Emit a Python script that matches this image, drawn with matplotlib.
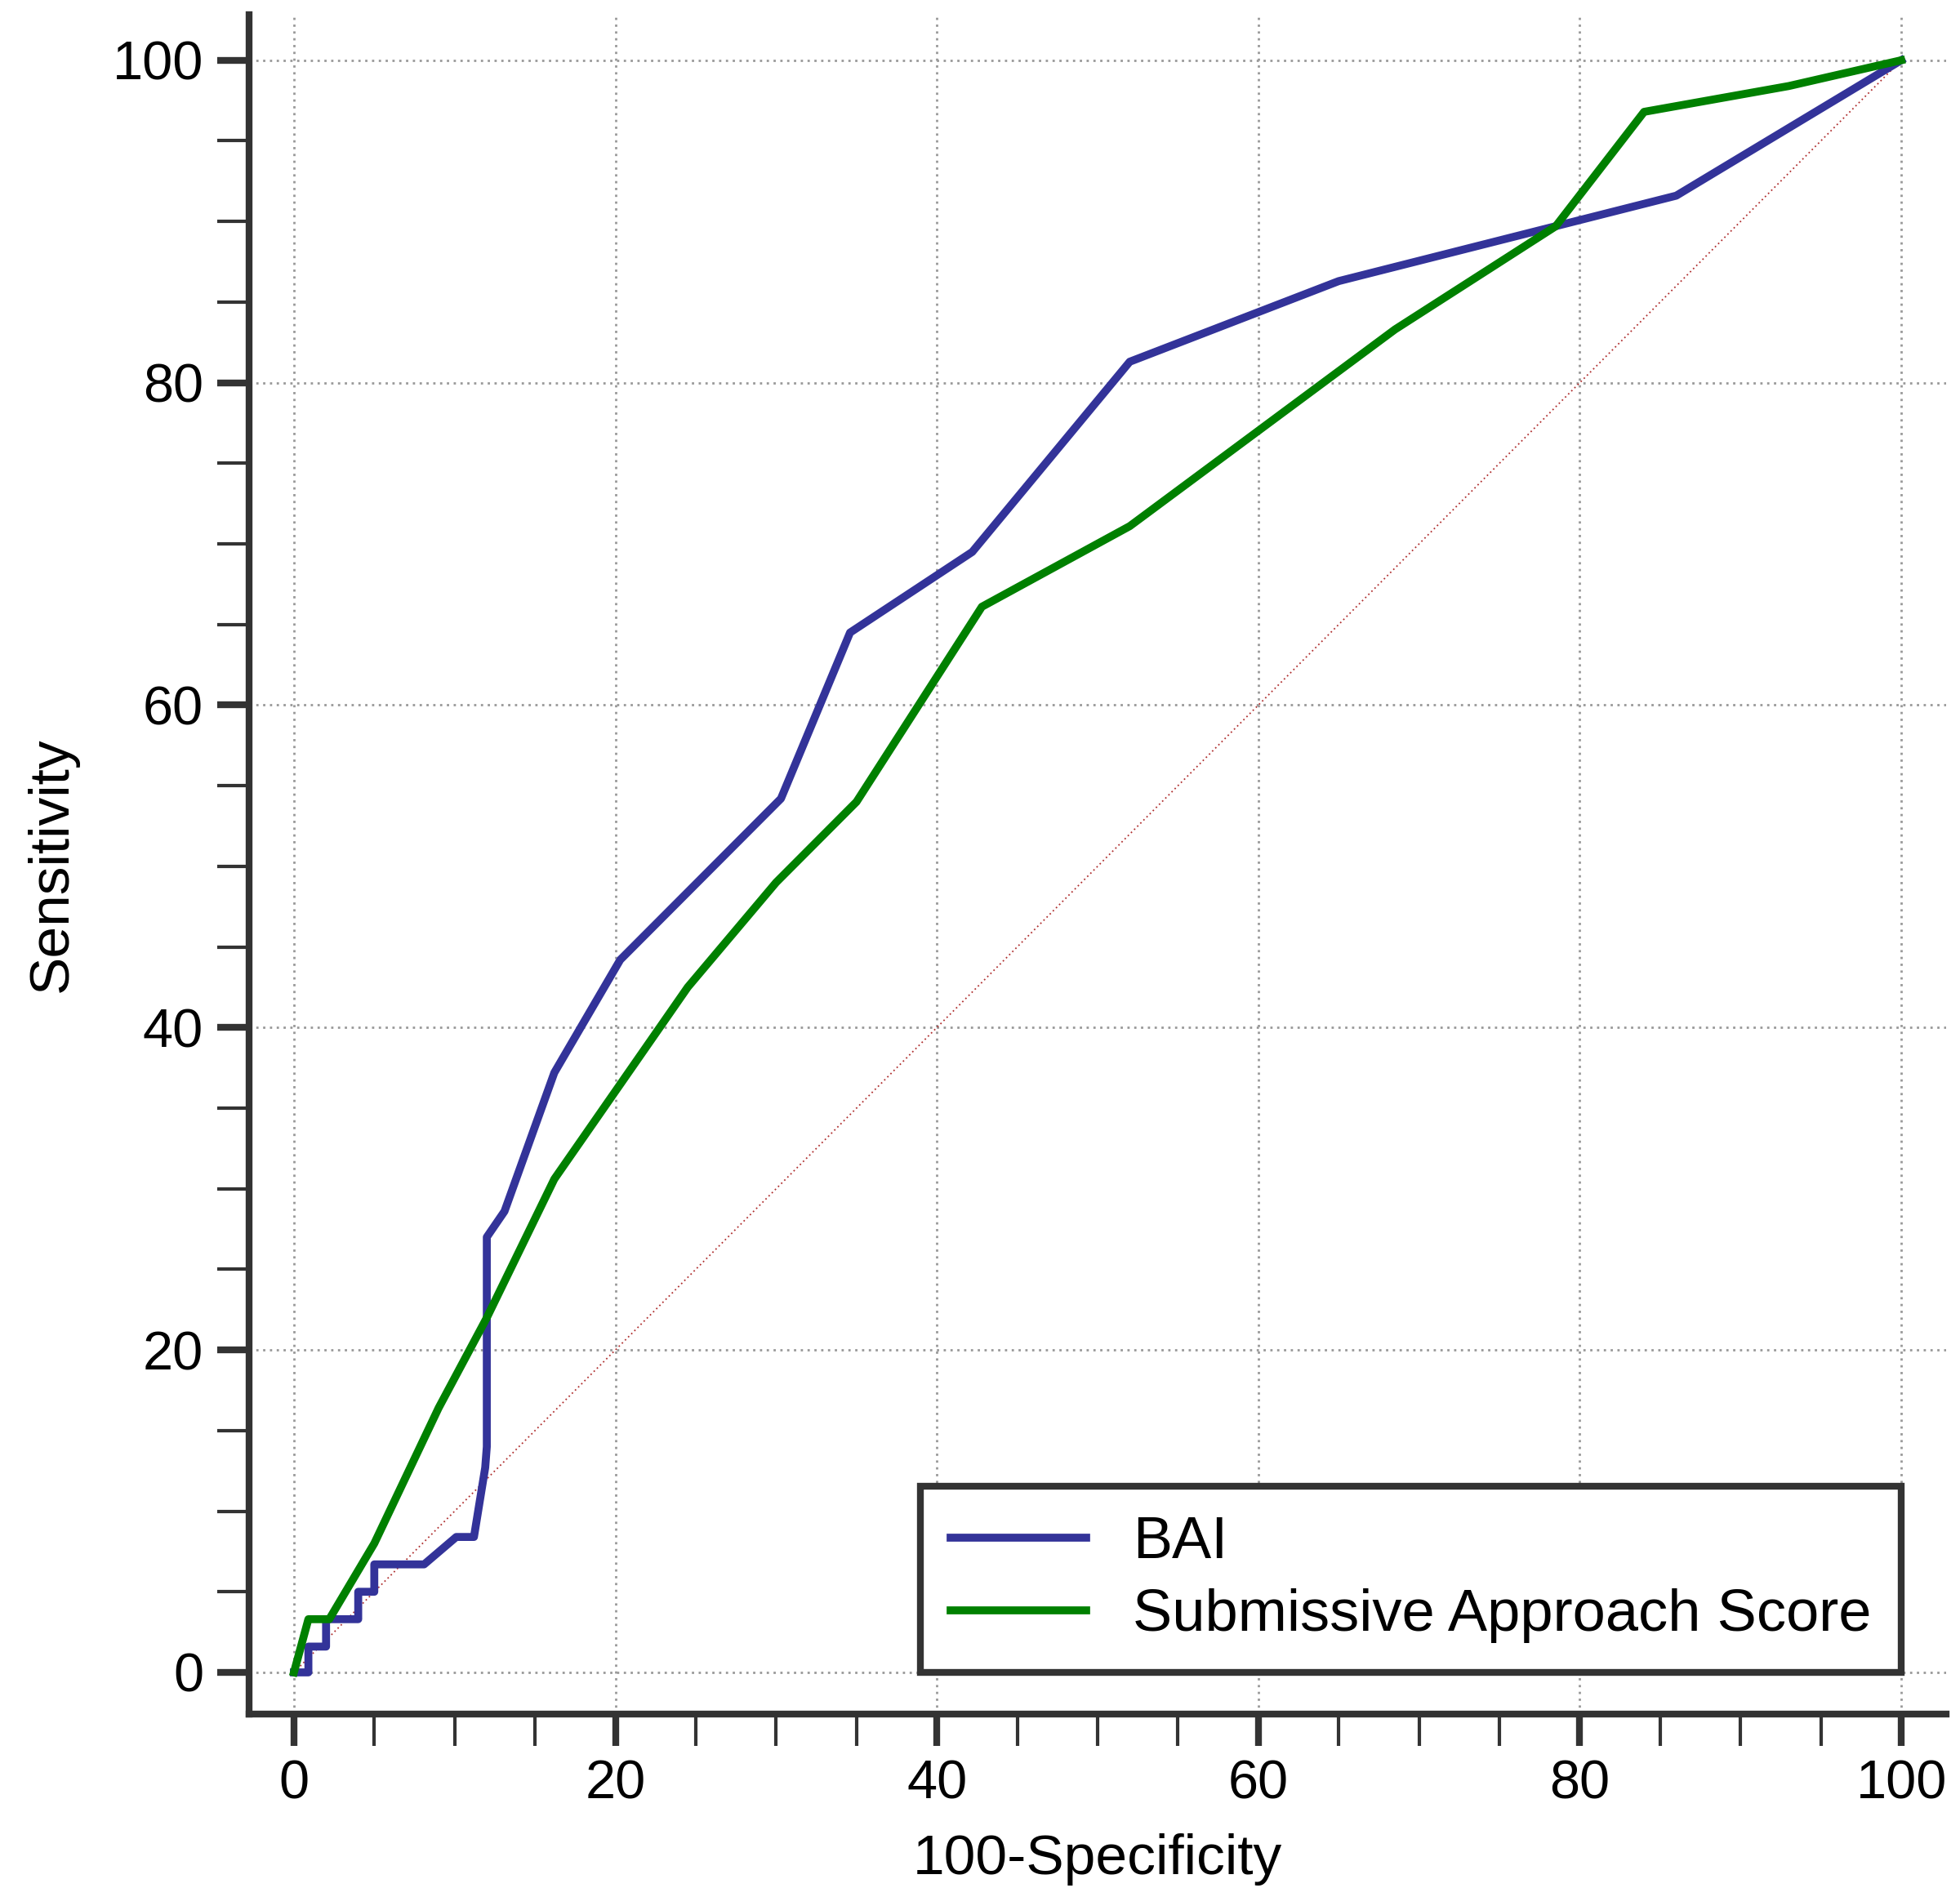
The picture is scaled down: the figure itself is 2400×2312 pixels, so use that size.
import matplotlib
matplotlib.use("Agg")
import matplotlib.pyplot as plt
from matplotlib.ticker import MultipleLocator

plt.rcParams["font.family"] = "Liberation Sans"

# ROC curves
bai_x = [0, 0.9, 0.9, 2.0, 2.0, 4.0, 4.0, 5.0, 5.0, 8.1, 10.1, 11.2, 11.9, 12.0, 12.0, 13.1,
         16.2, 20.3, 30.3, 34.6, 42.2, 52.0, 65.0, 86.0, 100]
bai_y = [0, 0, 1.6, 1.6, 3.3, 3.3, 5.0, 5.0, 6.7, 6.7, 8.4, 8.4, 12.7, 14.0, 27.0, 28.6,
         37.2, 44.2, 54.2, 64.5, 69.5, 81.3, 86.3, 91.6, 100]
sas_x = [0, 0.9, 2.2, 5.0, 9.0, 12.0, 16.2, 24.5, 30.0, 35.0, 42.8, 52.0, 68.5, 78.5, 84.0, 93.0, 100]
sas_y = [0, 3.3, 3.3, 8.0, 16.4, 22.0, 30.6, 42.5, 49.0, 54.0, 66.1, 71.1, 83.3, 89.7, 96.8, 98.4, 100]
ticks = [0, 20, 40, 60, 80, 100]

fig = plt.figure(figsize=(24, 23.12), dpi=100)
ax = fig.add_axes([0.127, 0.092, 0.866, 0.9])

ax.plot([0, 100], [0, 100], color="#b03030", lw=1.3, ls=(0, (1, 2)))
ax.plot(bai_x, bai_y, color="#333399", lw=7, label="BAI")
ax.plot(sas_x, sas_y, color="#008000", lw=7, label="Submissive Approach Score")

ax.set_xlim(-2.8, 102.8)
ax.set_ylim(-2.6, 102.8)
ax.set_xticks(ticks)
ax.set_yticks(ticks)
ax.xaxis.set_minor_locator(MultipleLocator(5))
ax.yaxis.set_minor_locator(MultipleLocator(5))
ax.grid(True, which="major", color="#999999", ls=(0, (1, 2)), lw=2)
for s in ["top", "right"]:
    ax.spines[s].set_visible(False)
for s in ["left", "bottom"]:
    ax.spines[s].set_linewidth(6)
    ax.spines[s].set_color("#333333")
ax.tick_params(which="major", length=28, width=6, color="#333333", labelsize=48, pad=12)
ax.tick_params(which="minor", length=28, width=3, color="#333333")
ax.set_xlabel("100-Specificity", fontsize=50, labelpad=20)
ax.set_ylabel("Sensitivity", fontsize=50, labelpad=30)

leg = ax.legend(loc="lower right", bbox_to_anchor=(100, 0), bbox_transform=ax.transData,
                borderaxespad=0, fontsize=52, frameon=True, fancybox=False,
                edgecolor="#333333", handlelength=2.3, borderpad=0.5, labelspacing=0.3)
leg.get_frame().set_linewidth(6)
leg.get_frame().set_facecolor("white")
leg.get_frame().set_alpha(1)
for h in leg.get_lines():
    h.set_linewidth(7)

fig.savefig("out.png", dpi=100)
